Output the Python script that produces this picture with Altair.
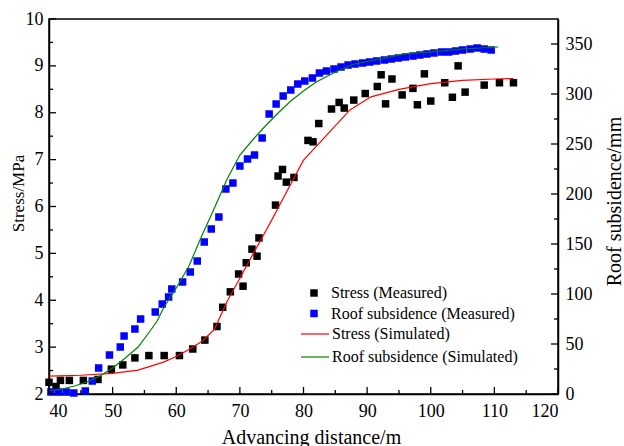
import altair as alt
import pandas as pd

# ---------------- data ----------------
stress_meas_x = [40.0, 41.1, 41.8, 43.2, 45.4, 47.7, 49.8, 51.6, 53.5, 55.7, 58.1, 60.5,
                 62.6, 64.5, 66.4, 67.3, 68.5, 69.8, 70.5, 71.0, 71.9, 72.7, 73.0, 75.6,
                 76.0, 76.7, 77.3, 78.5, 80.7, 81.5, 82.4, 84.4, 85.6, 86.4, 87.9, 89.7,
                 91.6, 92.2, 92.9, 93.9, 95.5, 97.2, 97.9, 99.0, 100.0, 102.2, 103.4,
                 104.3, 105.4, 108.4, 110.8, 113.0]
stress_meas_y = [2.25, 2.16, 2.29, 2.29, 2.29, 2.31, 2.53, 2.62, 2.77, 2.82, 2.82, 2.82,
                 2.96, 3.15, 3.44, 3.85, 4.18, 4.56, 4.30, 4.80, 5.09, 4.94, 5.33, 6.03,
                 6.65, 6.79, 6.52, 6.62, 7.41, 7.38, 7.77, 8.08, 8.22, 8.10, 8.27, 8.41,
                 8.56, 8.81, 8.19, 8.72, 8.38, 8.52, 8.17, 8.83, 8.25, 8.64, 8.33,
                 9.00, 8.44, 8.59, 8.64, 8.64]

subs_meas_x = [40.3, 41.5, 42.7, 43.9, 45.7, 46.8, 47.8, 49.5, 51.2, 51.8, 53.5, 54.4,
               56.7, 57.8, 58.8, 59.3, 61.0, 62.2, 63.3, 64.4, 65.5, 66.7, 67.8, 68.9,
               70.0, 71.2, 72.3, 73.5, 74.6, 75.7, 76.8, 78.0, 79.1, 80.2, 81.4, 82.5,
               83.6, 84.8, 85.9, 87.0, 88.1, 89.3, 90.4, 91.5, 92.7, 93.8, 94.9, 96.0,
               97.2, 98.3, 99.4, 100.5, 101.7, 102.8, 103.9, 105.0, 106.2, 107.3,
               108.4, 109.5]
subs_meas_y = [2, 2, 2, 1, 3, 13, 26, 39, 47, 58, 65, 75,
               82, 90, 97, 105, 112, 122, 133, 152, 165, 177, 205, 211,
               228, 235, 239, 256, 280, 290, 298, 304, 310, 313, 316, 321,
               323, 325, 327, 329, 330, 331, 332, 333, 334, 335, 336, 337,
               338, 339, 340, 341, 342, 342, 343, 344, 345, 346,
               345, 344]

stress_sim_x = [40, 45, 50, 54, 58, 60, 62, 64, 66, 68, 70, 72, 74, 75, 76, 78, 80,
                83.5, 87.3, 90.6, 95, 100, 105, 110, 113]
stress_sim_y = [2.38, 2.40, 2.44, 2.51, 2.68, 2.80, 2.95, 3.12, 3.38, 3.98, 4.47, 4.97,
                5.46, 5.71, 5.97, 6.48, 6.99, 7.50, 8.06, 8.34, 8.50, 8.62, 8.69, 8.72, 8.73]

subs_sim_x = [40, 42, 44, 46, 48, 50, 52, 54, 56, 57, 58, 60, 62, 64, 66, 68, 70, 72,
              74, 76, 78, 80, 82, 85, 88, 92, 96, 100, 105, 110.6]
subs_sim_y = [3, 5, 8, 12, 18, 26, 36, 47, 64, 73, 86, 106, 128, 158, 186, 215, 239, 254,
              268, 281, 293, 303, 312, 322, 330, 335, 340, 342, 345, 347]

measured_names = ["Stress (Measured)", "Roof subsidence (Measured)"]
measured_colors = ["#000000", "#0000ff"]
simulated_names = ["Stress (Simulated)", "Roof subsidence (Simulated)"]
simulated_colors = ["#ff0000", "#008000"]

x_major = [40, 50, 60, 70, 80, 90, 100, 110, 120]
x_minor = [45, 55, 65, 75, 85, 95, 105, 115]
stress_major = [2, 3, 4, 5, 6, 7, 8, 9, 10]
stress_minor = [2.5, 3.5, 4.5, 5.5, 6.5, 7.5, 8.5, 9.5]
subs_major = [0, 50, 100, 150, 200, 250, 300, 350]
subs_minor = [25, 75, 125, 175, 225, 275, 325]

FONT = "Liberation Serif"
W, H = 509, 375

# ---------------- tables ----------------
df_sm = pd.DataFrame({"dist": stress_meas_x, "stress": stress_meas_y, "series": measured_names[0]})
df_bm = pd.DataFrame({"dist": subs_meas_x, "subs": subs_meas_y, "series": measured_names[1]})
df_ss = pd.DataFrame({"dist": stress_sim_x, "stress": stress_sim_y, "series": simulated_names[0]})
df_bs = pd.DataFrame({"dist": subs_sim_x, "subs": subs_sim_y, "series": simulated_names[1]})

xscale = alt.Scale(domain=[40, 120], nice=False, zero=False)
s_scale = alt.Scale(domain=[2, 10], nice=False, zero=False)
b_scale = alt.Scale(domain=[0, 375], nice=False, zero=False)
mscale = alt.Scale(domain=measured_names, range=measured_colors)
lscale = alt.Scale(domain=simulated_names, range=simulated_colors)

legend_pts = alt.Legend(
    title=None, orient="none", legendX=257, legendY=266, padding=0,
    symbolType="square", symbolSize=56, symbolStrokeWidth=0,
    labelFont=FONT, labelFontSize=16, labelColor="black", labelOffset=9,
    rowPadding=4.5, labelLimit=400,
)
legend_lines = alt.Legend(
    title=None, orient="none", legendX=251, legendY=300, padding=0,
    symbolType="stroke", symbolSize=784, symbolStrokeWidth=1.2,
    labelFont=FONT, labelFontSize=16, labelColor="black", labelOffset=2,
    rowPadding=-2, labelLimit=400,
)

x_axis = alt.Axis(values=x_major, format="d", title="Advancing distance/m",
                  titleFontSize=20, titleX=262, titleY=49, titleBaseline="alphabetic",
                  titleAlign="center", labelPadding=8)
X = alt.X("dist:Q", scale=xscale, axis=x_axis)

left_axis = alt.Axis(
    orient="left", values=stress_major, format="d", title="Stress/MPa",
    titleFontSize=17, titleX=-26, titleY=174, titleAngle=270,
    titleBaseline="alphabetic", titleAlign="center", labelPadding=6)
right_axis = alt.Axis(
    orient="right", values=subs_major, format="d", title="Roof subsidence/mm",
    titleFontSize=20, titleX=62, titleY=182, titleAngle=270,
    titleBaseline="alphabetic", titleAlign="center", labelPadding=7)

black_pts = alt.Chart(df_sm).mark_point(filled=True, shape="square", size=56, opacity=1).encode(
    x=X, y=alt.Y("stress:Q", scale=s_scale, axis=left_axis),
    color=alt.Color("series:N", scale=mscale, legend=legend_pts),
)
blue_pts = alt.Chart(df_bm).mark_point(filled=True, shape="square", size=56, opacity=1).encode(
    x=X, y=alt.Y("subs:Q", scale=b_scale, axis=right_axis),
    color=alt.Color("series:N", scale=mscale, legend=legend_pts),
)
red_line = alt.Chart(df_ss).mark_line(strokeWidth=1.2).encode(
    x=X, y=alt.Y("stress:Q", scale=s_scale, axis=None),
    stroke=alt.Stroke("series:N", scale=lscale, legend=legend_lines),
)
green_line = alt.Chart(df_bs).mark_line(strokeWidth=1.2).encode(
    x=X, y=alt.Y("subs:Q", scale=b_scale, axis=None),
    stroke=alt.Stroke("series:N", scale=lscale, legend=legend_lines),
)


# inward tick marks
def xticks(vals, length):
    return alt.Chart(pd.DataFrame({"dist": vals})).mark_rule(color="black", strokeWidth=1.3).encode(
        x=X, y=alt.value(H), y2=alt.value(H - length))


def sticks(vals, length):
    return alt.Chart(pd.DataFrame({"s": vals})).mark_rule(color="black", strokeWidth=1.3).encode(
        y=alt.Y("s:Q", scale=s_scale, axis=None),
        x=alt.value(0), x2=alt.value(length))


def bticks(vals, length):
    return alt.Chart(pd.DataFrame({"b": vals})).mark_rule(color="black", strokeWidth=1.3).encode(
        y=alt.Y("b:Q", scale=b_scale, axis=None),
        x=alt.value(W), x2=alt.value(W - length))


chart = alt.layer(
    black_pts, blue_pts, red_line, green_line,
    xticks(x_major, 7), xticks(x_minor, 4),
    sticks(stress_major, 7), sticks(stress_minor, 4),
    bticks(subs_major, 7), bticks(subs_minor, 4),
).resolve_scale(y="independent").properties(
    width=W, height=H, autosize="none",
    padding={"left": 49, "top": 19, "right": 66, "bottom": 52},
    background="white",
).configure_view(
    stroke="black", strokeWidth=1.5
).configure_axis(
    domainColor="black", domainWidth=1.5, grid=False, ticks=False, tickSize=0,
    labelFont=FONT, labelFontSize=18, labelColor="black",
    titleFont=FONT, titleColor="black", titleFontWeight="normal",
)

chart.save("out.html", embed_options={"renderer": "svg", "actions": False})
